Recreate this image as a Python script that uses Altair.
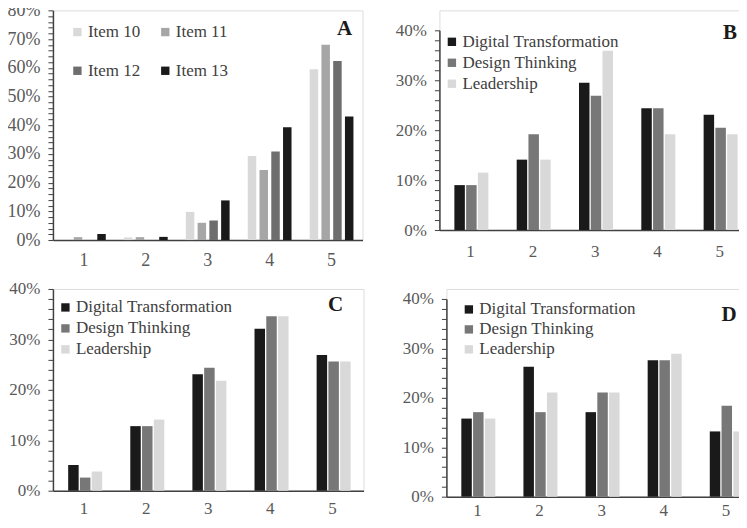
import altair as alt
import pandas as pd

cats = ["1", "2", "3", "4", "5"]

items = ["Item 10", "Item 11", "Item 12", "Item 13"]
item10 = [0.0, 0.9, 9.8, 29.3, 59.5]
item11 = [1.0, 1.0, 6.0, 24.4, 68.0]
item12 = [0.0, 0.0, 6.8, 30.8, 62.4]
item13 = [2.1, 1.1, 13.8, 39.3, 43.0]

series = ["Digital Transformation", "Design Thinking", "Leadership"]
dt_b = [9.0, 14.1, 29.5, 24.4, 23.1]
ds_b = [9.0, 19.2, 26.9, 24.4, 20.5]
ld_b = [11.5, 14.1, 35.9, 19.2, 19.2]

dt_c = [5.1, 12.8, 23.1, 32.1, 26.9]
ds_c = [2.6, 12.8, 24.4, 34.6, 25.6]
ld_c = [3.8, 14.1, 21.8, 34.6, 25.6]

dt_d = [15.8, 26.3, 17.1, 27.6, 13.2]
ds_d = [17.1, 17.1, 21.1, 27.6, 18.4]
ld_d = [15.8, 21.1, 21.1, 28.9, 13.2]

item_colors = ["#d9d9d9", "#a6a6a6", "#6e6e6e", "#1a1a1a"]
series_colors = ["#1a1a1a", "#777777", "#d9d9d9"]

FONT = "Liberation Serif"
AXIS_COL = "#404040"
TXT_COL = "#595959"


def make_df(names, arrays):
    rows = []
    for name, arr in zip(names, arrays):
        for c, v in zip(cats, arr):
            rows.append({"cat": c, "series": name, "value": v})
    return pd.DataFrame(rows)


def panel(df, names, colors, ymax, width, height, top_gap, letter, letter_xy,
          legend_xy, columns, row_pad, col_pad, pad_inner, label_size,
          bar_w, x_label_pad):
    legend = alt.Legend(
        orient="none", legendX=legend_xy[0], legendY=legend_xy[1], title=None,
        symbolType="square", symbolSize=70, symbolStrokeWidth=0,
        labelFont=FONT, labelFontSize=17, labelColor="#404040",
        labelOffset=2, columns=columns, rowPadding=row_pad,
        columnPadding=col_pad, padding=0,
        direction="horizontal" if columns > 1 else "vertical",
    )
    bars = alt.Chart(df).mark_bar(width=bar_w).encode(
        x=alt.X("cat:N", sort=cats, title=None,
                scale=alt.Scale(paddingInner=pad_inner, paddingOuter=pad_inner / 2),
                axis=alt.Axis(labelAngle=0, ticks=False, domainColor=AXIS_COL,
                              domainWidth=1.5, labelFont=FONT,
                              labelFontSize=label_size, labelColor=TXT_COL,
                              labelPadding=x_label_pad)),
        xOffset=alt.XOffset("series:N", sort=names,
                            scale=alt.Scale(paddingInner=0.05, paddingOuter=0)),
        y=alt.Y("value:Q", title=None,
                scale=alt.Scale(domain=[0, ymax], nice=False,
                                range=[height, top_gap]),
                axis=alt.Axis(values=list(range(0, ymax + 1, 2)),
                              labelExpr="datum.value % 10 == 0 ? datum.value + '%' : ''",
                              grid=False, tickSize=5, tickColor=AXIS_COL,
                              tickWidth=1, domainColor=AXIS_COL, domainWidth=1.5,
                              labelFont=FONT, labelFontSize=label_size,
                              labelColor=TXT_COL, labelPadding=8)),
        color=alt.Color("series:N", sort=names,
                        scale=alt.Scale(domain=names, range=colors),
                        legend=legend),
    )
    txt = alt.Chart(pd.DataFrame({"t": [letter]})).mark_text(
        font=FONT, fontSize=21, fontWeight="bold", color="#1a1a1a",
        align="center", baseline="middle",
    ).encode(text="t:N", x=alt.value(letter_xy[0]), y=alt.value(letter_xy[1]))
    return alt.layer(bars, txt).properties(width=width, height=height)


pa = panel(make_df(items, [item10, item11, item12, item13]), items, item_colors,
           80, 310, 230, 0, "A", (292, 19), (16, 13), 2, 21, 16, 0.34, 18, 8.5, 12)
pb = panel(make_df(series, [dt_b, ds_b, ld_b]), series, series_colors,
           40, 312, 220, 20, "B", (291, 23), (4, 23), 1, 3, 0, 0.37, 17, 10.5, 13)
pc = panel(make_df(series, [dt_c, ds_c, ld_c]), series, series_colors,
           40, 311, 202, 0, "C", (283, 16), (4, 10), 1, 3, 0, 0.38, 17, 10.5, 10)
pd_ = panel(make_df(series, [dt_d, ds_d, ld_d]), series, series_colors,
            40, 311, 208, 10, "D", (283, 26), (14, 12), 1, 2, 0, 0.37, 17, 10.5, 6)

top = alt.hconcat(pa, pb, spacing=31).resolve_scale(color="independent").resolve_legend(color="independent")
bottom = alt.hconcat(pc, pd_, spacing=37).resolve_scale(color="independent").resolve_legend(color="independent")

chart = alt.vconcat(top, bottom, spacing=8).resolve_scale(
    color="independent").resolve_legend(color="independent").properties(
    padding={"top": -8, "left": -2, "right": -19, "bottom": 0}
).configure_view(stroke=None).configure(background="white")

chart.save("out.html", embed_options={"renderer": "svg", "actions": False})
